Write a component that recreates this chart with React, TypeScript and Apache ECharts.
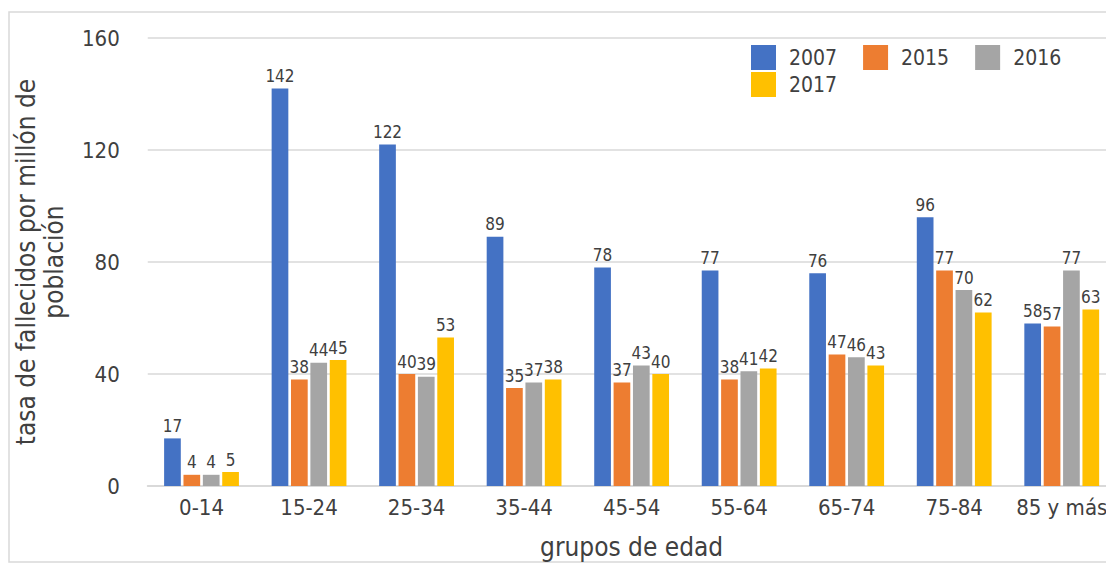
import React, { useEffect, useRef } from "react";
import * as echarts from "echarts";

const categories = ["0-14", "15-24", "25-34", "35-44", "45-54", "55-64", "65-74", "75-84", "85 y más"];
const seriesNames = ["2007", "2015", "2016", "2017"];
const values2007 = [17, 142, 122, 89, 78, 77, 76, 96, 58];
const values2015 = [4, 38, 40, 35, 37, 38, 47, 77, 57];
const values2016 = [4, 44, 39, 37, 43, 41, 46, 70, 77];
const values2017 = [5, 45, 53, 38, 40, 42, 43, 62, 63];
const yTicks = [0, 40, 80, 120, 160];

const colors = ["#4472C4", "#ED7D31", "#A5A5A5", "#FFC000"];
const FONT = "'DejaVu Sans Condensed', 'DejaVu Sans', sans-serif";
const TEXT = "#404040";

export default function App() {
  const ref = useRef<HTMLDivElement>(null);

  useEffect(() => {
    if (!ref.current) return;
    const chart = echarts.init(ref.current, undefined, { renderer: "svg" });
    const allValues = [values2007, values2015, values2016, values2017];

    const legendBase = {
      left: 751,
      orient: "horizontal",
      icon: "rect",
      itemWidth: 25,
      itemHeight: 25,
      itemGap: 26,
      padding: 0,
      textStyle: { fontFamily: FONT, fontSize: 21, color: TEXT, padding: [0, 0, 0, 8] },
    };

    chart.setOption({
      animation: false,
      color: colors,
      textStyle: { fontFamily: FONT, color: TEXT },
      graphic: [
        {
          type: "rect",
          shape: { x: 9, y: 12, width: 1200, height: 550 },
          style: { fill: "none", stroke: "#d9d9d9", lineWidth: 1.5 },
          silent: true,
        },
      ],
      legend: [
        { ...legendBase, data: seriesNames.slice(0, 3), top: 45 },
        { ...legendBase, data: seriesNames.slice(3), top: 72 },
      ],
      grid: { left: 147.75, right: 14.5, top: 38, bottom: 77, outerBoundsMode: "none", containLabel: false },
      xAxis: {
        type: "category",
        data: categories,
        name: "grupos de edad",
        nameLocation: "middle",
        nameGap: 48,
        nameTextStyle: { fontFamily: FONT, fontSize: 26, color: TEXT },
        axisLine: { lineStyle: { color: "#d9d9d9", width: 2 } },
        axisTick: { show: false },
        axisLabel: { interval: 0, fontFamily: FONT, fontSize: 22, color: TEXT, margin: 10 },
      },
      yAxis: {
        type: "value",
        min: yTicks[0],
        max: yTicks[yTicks.length - 1],
        interval: yTicks[1] - yTicks[0],
        name: "tasa de fallecidos por millón de\npoblación",
        nameLocation: "middle",
        nameRotate: 90,
        nameGap: 80,
        nameTextStyle: { fontFamily: FONT, fontSize: 26, color: TEXT, lineHeight: 28 },
        axisLine: { show: false },
        axisTick: { show: false },
        axisLabel: { fontFamily: FONT, fontSize: 22, color: TEXT, margin: 28 },
        splitLine: { lineStyle: { color: "#d9d9d9", width: 1.5 } },
      },
      series: seriesNames.map((name, i) => ({
        name,
        type: "bar",
        data: allValues[i],
        barWidth: 16.7,
        barGap: "16%",
        label: {
          show: true,
          position: "top",
          distance: 4,
          fontFamily: FONT,
          fontSize: 17,
          color: TEXT,
        },
      })),
    });

    return () => chart.dispose();
  }, []);

  return (
    <div
      style={{
        position: "fixed",
        left: 0,
        top: 0,
        width: 1106,
        height: 563,
        overflow: "hidden",
        background: "#fff",
      }}
    >
      <div ref={ref} style={{ width: 1130, height: 563 }} />
    </div>
  );
}
